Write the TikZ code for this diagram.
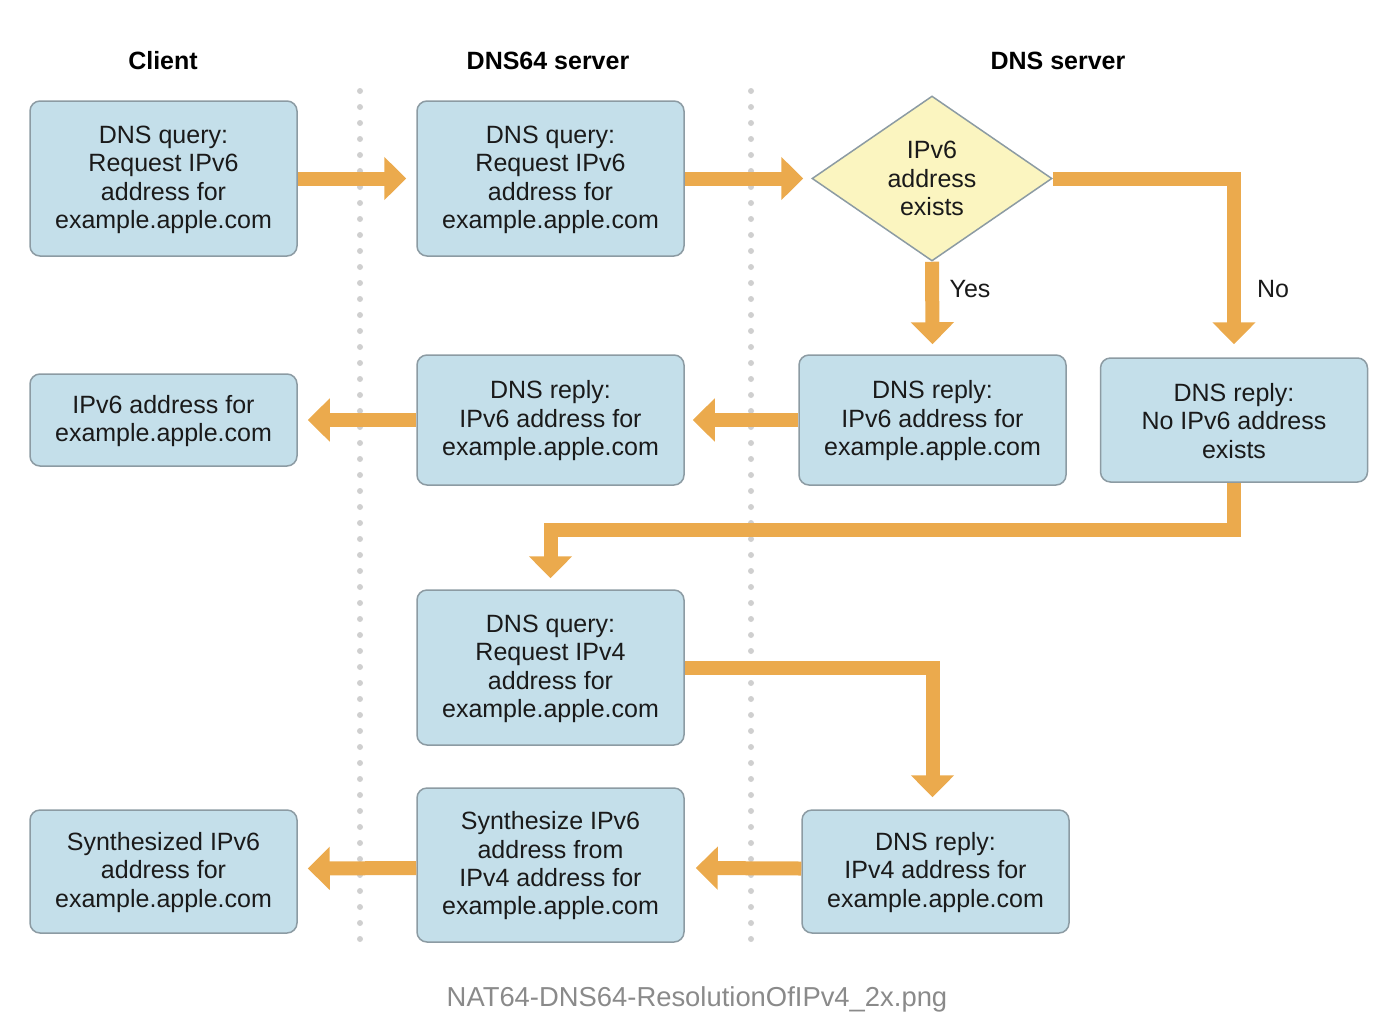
\documentclass[tikz,border=0pt]{standalone}
\usepackage{fontspec}
\setmainfont{Liberation Sans}
\usetikzlibrary{arrows.meta,shapes.geometric}
\definecolor{boxfill}{HTML}{C4DFEA}
\definecolor{boxline}{HTML}{8C9BA3}
\definecolor{flowc}{HTML}{EBAA4D}
\definecolor{dia}{HTML}{FBF5C0}
\definecolor{dotc}{HTML}{CFCFCF}
\definecolor{capc}{HTML}{8A8A8A}
\definecolor{txt}{HTML}{1A1A1A}
\tikzset{
  stepbox/.style={draw=boxline, line width=1.5pt, fill=boxfill, rounded corners=10pt,
    minimum width=267pt, inner sep=0pt, align=center, text=txt,
    font=\fontsize{25pt}{28.4pt}\selectfont},
  decide/.style={diamond, draw=boxline, line width=1.5pt, fill=dia, shape aspect=1.45,
    minimum width=240pt, minimum height=165pt, inner sep=0pt, align=center, text=txt,
    font=\fontsize{25pt}{28.4pt}\selectfont},
  head/.style={font=\fontsize{25pt}{28pt}\selectfont\bfseries, text=black},
  lbl/.style={font=\fontsize{25pt}{28pt}\selectfont, text=txt},
  flow/.style={draw=flowc, line width=14pt, line join=miter,
    -{Triangle[width=42pt 0 0,length=22pt 0 0]}},
  sep/.style={draw=dotc, line width=6pt, line cap=round, dash pattern=on 0pt off 16pt}
}
\begin{document}
\begin{tikzpicture}[x=1pt,y=-1pt]
\useasboundingbox (0,0) rectangle (1400,1034);
% headers
\node[head] (hc) at (163,61) {Client};
\node[head] (hd) at (548,61) {DNS64 server};
\node[head] (hs) at (1058,61) {DNS server};
% separators
\coordinate (s1a) at (360,91); \coordinate (s1b) at (360,940);
\coordinate (s2a) at (751,91); \coordinate (s2b) at (751,940);
\draw[sep] (s1a) -- (s1b);
\draw[sep] (s2a) -- (s2b);
% row 1
\node[stepbox, minimum height=155pt] (A1) at (163.5,178.5) {\strut DNS query:\\Request IPv6\\address for\\example.apple.com};
\node[stepbox, minimum height=155pt] (B1) at (550.5,178.5) {\strut DNS query:\\Request IPv6\\address for\\example.apple.com};
\node[decide] (D) at (932,178.5) {IPv6\\address\\exists};
% row 2
\node[stepbox, minimum height=92pt] (A2) at (163.5,420) {\strut IPv6 address for\\example.apple.com};
\node[stepbox, minimum height=130pt] (B2) at (550.5,420) {\strut DNS reply:\\IPv6 address for\\example.apple.com};
\node[stepbox, minimum height=130pt] (C2) at (932.5,420) {\strut DNS reply:\\IPv6 address for\\example.apple.com};
\node[stepbox, minimum height=124pt] (D2) at (1234,420) {\strut DNS reply:\\No IPv6 address\\exists};
% row 3
\node[stepbox, minimum height=155pt] (B3) at (550.5,667.5) {\strut DNS query:\\Request IPv4\\address for\\example.apple.com};
% row 4
\node[stepbox, minimum height=123pt] (A4) at (163.5,871.5) {\strut Synthesized IPv6\\address for\\example.apple.com};
\node[stepbox, minimum height=154pt] (B4) at (550.5,865) {\strut Synthesize IPv6\\address from\\IPv4 address for\\example.apple.com};
\node[stepbox, minimum height=123pt] (C4) at (935.5,871.5) {\strut DNS reply:\\IPv4 address for\\example.apple.com};
% labels
\node[lbl] (yes) at (970,289) {Yes};
\node[lbl] (no) at (1273,289) {No};
% connectors
\draw[flow] (A1.east) -- ([xshift=-10pt]B1.west);
\draw[flow] (B1.east) -- ([xshift=-8pt]D.west);
\draw[flow] (D.east) -| ([yshift=13pt]D2.north);
\draw[flow] (D.south) -- ([yshift=10pt]C2.north);
\draw[flow] (C2.west) -- ([xshift=8pt]B2.east);
\draw[flow] (B2.west) -- ([xshift=10pt]A2.east);
\draw[flow] (D2.south) -- ++(0,47) -| ([yshift=11pt]B3.north);
\draw[flow] (B3.east) -| ([xshift=-3pt,yshift=12pt]C4.north);
\draw[flow] ([yshift=3pt]C4.west) -- ([xshift=11pt,yshift=-3pt]B4.east);
\draw[flow] ([yshift=-3pt]B4.west) -- ([xshift=10pt,yshift=3pt]A4.east);
% caption
\node[font=\fontsize{27.4pt}{31pt}\selectfont, text=capc] (cap) at (697,999) {NAT64-DNS64-ResolutionOfIPv4\_2x.png};
\end{tikzpicture}
\end{document}
